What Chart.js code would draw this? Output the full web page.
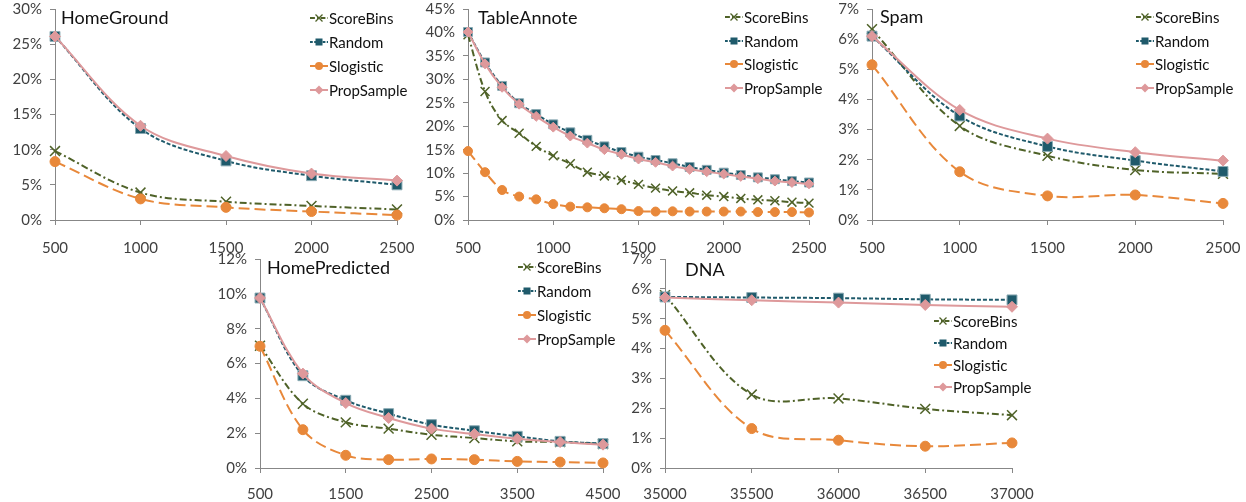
<!DOCTYPE html>
<html><head><meta charset="utf-8">
<script src="https://cdn.jsdelivr.net/npm/chart.js@4.4.0/dist/chart.umd.min.js"></script>
<style>
html,body{margin:0;padding:0;background:#fff;width:1246px;height:502px;overflow:hidden;}
canvas{position:absolute;}
</style></head><body>
<canvas id="c1" width="425" height="258" style="left:0;top:0"></canvas>
<canvas id="c2" width="425" height="258" style="left:413px;top:0"></canvas>
<canvas id="c3" width="429" height="258" style="left:817px;top:0"></canvas>
<canvas id="c4" width="425" height="252" style="left:205px;top:250px"></canvas>
<canvas id="c5" width="436" height="252" style="left:610px;top:250px"></canvas>
<script>
// ---------- data ----------
const seriesNames = ['ScoreBins','Random','Slogistic','PropSample'];

const hgX = [500,1000,1500,2000,2500];
const hgScoreBins  = [9.8,3.9,2.6,2.0,1.5];
const hgRandom     = [26.1,13.0,8.4,6.3,5.0];
const hgSlogistic  = [8.3,3.0,1.8,1.2,0.7];
const hgPropSample = [26.1,13.4,9.1,6.6,5.6];

const taX = [500,600,700,800,900,1000,1100,1200,1300,1400,1500,1600,1700,1800,1900,2000,2100,2200,2300,2400,2500];
const taScoreBins  = [39.5,27.4,21.2,18.5,15.7,13.7,12.0,10.2,9.4,8.5,7.6,6.8,6.2,5.8,5.3,5.0,4.6,4.3,4.1,3.8,3.6];
const taRandom     = [40.1,33.6,28.6,24.9,22.6,20.4,18.7,17.1,15.7,14.5,13.5,12.8,12.1,11.3,10.7,10.1,9.6,9.1,8.7,8.3,8.0];
const taSlogistic  = [14.7,10.2,6.4,5.0,4.4,3.4,2.85,2.7,2.5,2.3,1.9,1.8,1.85,1.8,1.8,1.8,1.8,1.7,1.7,1.7,1.6];
const taPropSample = [40.1,33.3,28.3,24.7,22.1,19.8,17.9,16.4,15.0,14.0,13.0,12.3,11.5,10.8,10.3,9.8,9.3,8.8,8.3,8.0,7.7];

const spX = [500,1000,1500,2000,2500];
const spScoreBins  = [6.33,3.12,2.13,1.66,1.53];
const spRandom     = [6.1,3.45,2.44,1.97,1.61];
const spSlogistic  = [5.15,1.6,0.8,0.83,0.55];
const spPropSample = [6.1,3.65,2.7,2.25,1.97];

const hpX = [500,1000,1500,2000,2500,3000,3500,4000,4500];
const hpScoreBins  = [7.02,3.69,2.62,2.26,1.91,1.72,1.53,1.49,1.38];
const hpRandom     = [9.76,5.3,3.89,3.12,2.49,2.14,1.82,1.53,1.4];
const hpSlogistic  = [6.99,2.2,0.73,0.48,0.52,0.48,0.38,0.34,0.29];
const hpPropSample = [9.76,5.42,3.73,2.87,2.26,1.95,1.68,1.49,1.34];

const dnX = [35000,35500,36000,36500,37000];
const dnScoreBins  = [5.79,2.46,2.33,1.98,1.77];
const dnRandom     = [5.73,5.71,5.69,5.65,5.63];
const dnSlogistic  = [4.61,1.32,0.93,0.73,0.84];
const dnPropSample = [5.71,5.62,5.54,5.46,5.4];

const titles = ['HomeGround','TableAnnote','Spam','HomePredicted','DNA'];

// ---------- styles ----------
const FONT = 'Lato';
const AXIS = '#878787';
const TXT = '#404040';
const STY = {
  ScoreBins:  {color:'#4F6228', dash:[7,3,2,3], point:'crossRot', r:7, fill:'#4F6228', border:'#4F6228', bw:1.5, order:3},
  Random:     {color:'#1F5A6B', dash:[4,2],     point:'rect',     r:7, fill:'#1F5A6B', border:'#8AAAB3', bw:1,   order:2},
  Slogistic:  {color:'#E8883A', dash:[11,5],    point:'circle',   r:5, fill:'#E8883A', border:'#E8883A', bw:1,   order:1},
  PropSample: {color:'#DE999B', dash:[],        point:'rectRot',  r:5.5, fill:'#DE999B', border:'#DE999B', bw:1, order:0}
};

function legendMarker(ctx, name, x, y){
  const s = STY[name];
  ctx.save();
  ctx.setLineDash([]);
  ctx.fillStyle = s.fill; ctx.strokeStyle = s.color; ctx.lineWidth = 1.3;
  if (s.point==='crossRot'){
    const d=3.5; ctx.beginPath();
    ctx.moveTo(x-d,y-d); ctx.lineTo(x+d,y+d); ctx.moveTo(x-d,y+d); ctx.lineTo(x+d,y-d); ctx.stroke();
  } else if (s.point==='rect'){
    ctx.fillRect(x-3.5,y-3.5,7,7);
  } else if (s.point==='circle'){
    ctx.beginPath(); ctx.arc(x,y,4,0,Math.PI*2); ctx.fill();
  } else {
    ctx.beginPath(); ctx.moveTo(x,y-4.5); ctx.lineTo(x+4.5,y); ctx.lineTo(x,y+4.5); ctx.lineTo(x-4.5,y); ctx.closePath(); ctx.fill();
  }
  ctx.restore();
}

const overlay = {
  id:'overlay',
  afterDraw(chart, args, o){
    const ctx = chart.ctx;
    ctx.save();
    ctx.fillStyle = '#111';
    ctx.font = '18px ' + FONT;
    ctx.textBaseline = 'middle'; ctx.textAlign='left';
    ctx.fillText(o.title, o.titleX, o.titleY);
    ctx.font = '15px ' + FONT;
    seriesNames.forEach((n,i)=>{
      const y = o.legY[i], mx = o.legX;
      const s = STY[n];
      ctx.save();
      ctx.strokeStyle = s.color; ctx.lineWidth = 2; ctx.setLineDash(s.dash.length? s.dash.map(v=>v*0.7):[]);
      ctx.beginPath(); ctx.moveTo(mx-9,y); ctx.lineTo(mx+9,y); ctx.stroke();
      ctx.restore();
      legendMarker(ctx, n, mx, y);
      ctx.fillStyle = '#111';
      ctx.fillText(n, mx+10, y+1);
    });
    ctx.restore();
  }
};

function makeChart(id, xs, vals, o){
  const datasets = seriesNames.map((n,k)=>{
    const s = STY[n];
    return {
      label:n,
      data: xs.map((x,i)=>({x:x, y:vals[k][i]})),
      borderColor:s.color, borderWidth:2, borderDash:s.dash,
      pointStyle:s.point, pointRadius:s.r*(o.ps||1), pointBackgroundColor:s.fill,
      pointBorderColor:s.border, pointBorderWidth:s.bw,
      tension:0.35, clip:false, order:s.order, fill:false
    };
  });
  new Chart(document.getElementById(id), {
    type:'line',
    data:{datasets},
    options:{
      responsive:false, animation:false, events:[],
      layout:{padding:{top:o.padTop, right:o.padRight, left:0, bottom:0}},
      plugins:{legend:{display:false}, tooltip:{enabled:false}, overlay:o.ov},
      scales:{
        x:{type:'linear', min:o.xMin, max:o.xMax,
           afterFit:(s)=>{s.height=o.xAxisH; s.paddingLeft=0; s.paddingRight=0;},
           ticks:{stepSize:o.xStep, color:TXT, padding:o.labelPad, font:{family:FONT, size:15}, maxRotation:0,
                  callback:(v)=>String(v)},
           grid:{drawOnChartArea:false, drawTicks:true, tickLength:5, color:AXIS},
           border:{color:AXIS, width:1}},
        y:{min:0, max:o.yMax,
           afterFit:(s)=>{s.width=55; s.paddingTop=0; s.paddingBottom=0;},
           ticks:{stepSize:o.yStep, color:TXT, padding:8, font:{family:FONT, size:15},
                  callback:(v)=>v+'%'},
           grid:{drawOnChartArea:false, drawTicks:true, tickLength:5, color:AXIS},
           border:{color:AXIS, width:1}}
      }
    },
    plugins:[overlay]
  });
}

makeChart('c1', hgX, [hgScoreBins,hgRandom,hgSlogistic,hgPropSample],
  {xMin:500,xMax:2500,xStep:500,yMax:30,yStep:5,padTop:9,padRight:28,xAxisH:38,labelPad:14,
   ov:{title:titles[0],titleX:61,titleY:18,legX:319,legY:[18,42,66,90]}});
makeChart('c2', taX, [taScoreBins,taRandom,taSlogistic,taPropSample],
  {xMin:500,xMax:2500,xStep:500,yMax:45,yStep:5,padTop:9,padRight:29,xAxisH:38,labelPad:14,ps:0.9,
   ov:{title:titles[1],titleX:65,titleY:18,legX:321,legY:[17,41,64,88]}});
makeChart('c3', spX, [spScoreBins,spRandom,spSlogistic,spPropSample],
  {xMin:500,xMax:2500,xStep:500,yMax:7,yStep:1,padTop:9,padRight:23,xAxisH:38,labelPad:14,
   ov:{title:titles[2],titleX:63,titleY:17,legX:328,legY:[17,41,64,88]}});
makeChart('c4', hpX, [hpScoreBins,hpRandom,hpSlogistic,hpPropSample],
  {xMin:500,xMax:4500,xStep:1000,yMax:12,yStep:2,padTop:9,padRight:27,xAxisH:34,labelPad:12,
   ov:{title:titles[3],titleX:62,titleY:18,legX:322,legY:[17,41,65,89]}});
makeChart('c5', dnX, [dnScoreBins,dnRandom,dnSlogistic,dnPropSample],
  {xMin:35000,xMax:37000,xStep:500,yMax:7,yStep:1,padTop:9,padRight:34,xAxisH:34,labelPad:12,
   ov:{title:titles[4],titleX:75,titleY:20,legX:333,legY:[71,93,115,137]}});
</script>
</body></html>
